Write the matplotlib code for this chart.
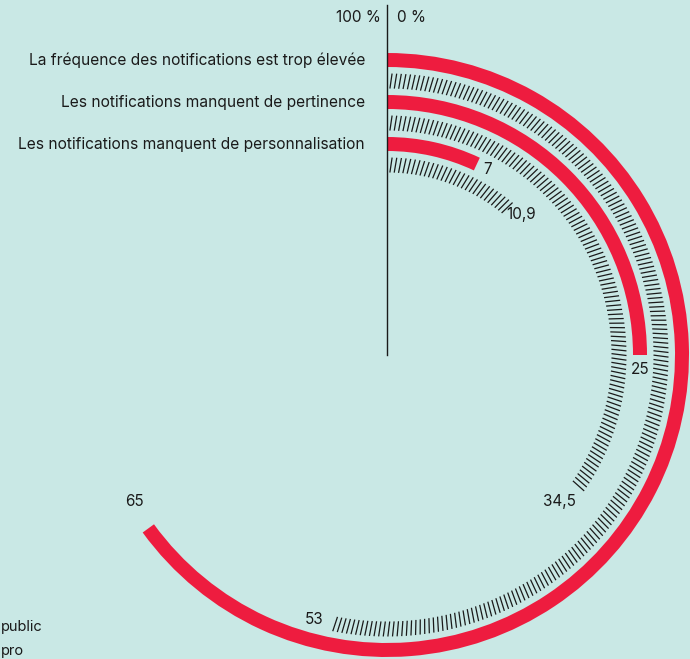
import matplotlib.pyplot as plt
import numpy as np

# DATA
categories = [
    'La fréquence des notifications est trop élevée',
    'Les notifications manquent de pertinence',
    'Les notifications manquent de personnalisation',
]
public = [65, 25, 7]
pro = [53, 34.5, 10.9]
legend_labels = ['public', 'pro']

# Colors
bg = '#c9e8e5'
red = '#ee1c3f'
ink = '#1a1a1a'

plt.rcParams['font.family'] = ['Inter', 'DejaVu Sans']

W, H = 690, 659
cx, cy = 387, 355          # centre of the rings, pixels from top-left
R = 310                    # half size of the polar box in pixels

fig = plt.figure(figsize=(W / 100, H / 100), dpi=100, facecolor=bg)
ax = fig.add_axes([(cx - R) / W, (H - cy - R) / H, 2 * R / W, 2 * R / H],
                  projection='polar')
ax.set_theta_zero_location('N')
ax.set_theta_direction(-1)
ax.set_ylim(0, R)
ax.set_axis_off()

red_r = [295, 253, 211]    # ring radii for public
pro_r = [274, 232, 190]    # ring radii for pro
thick = 14

def to_theta(v):
    return v / 100 * 2 * np.pi

# public: solid red arcs
for v, r in zip(public, red_r):
    ax.barh(r, to_theta(v), left=0, height=thick, color=red, linewidth=0)

# pro: hatched arcs made of short slanted ticks
step = 4.5
for v, r in zip(pro, pro_r):
    r0, r1 = r - 7.5, r + 7.5
    arc = to_theta(v) * r
    n = int((arc - 3) / step) + 1
    th = (3 + np.arange(n) * step) / r
    ts, rs = [], []
    for t in th:
        ts += [t, t + 2.0 / r1, np.nan]
        rs += [r0, r1, np.nan]
    ax.plot(ts, rs, color=ink, lw=0.9, solid_capstyle='butt')

# value labels
fs = 11
gaps = [(30, -3), (15, 0.5), (12.5, 0)]
for v, r, (g, dr) in zip(public, red_r, gaps):
    rr = r + dr
    ax.text(to_theta(v) + g / rr, rr, f'{v:g}'.replace('.', ','),
            ha='center', va='center', fontsize=fs, color=ink)
gaps = [(22.5, 0), (24.7, -6), (15, 4.5)]
for v, r, (g, dr) in zip(pro, pro_r, gaps):
    rr = r + dr
    ax.text(to_theta(v) + g / rr, rr, f'{v:g}'.replace('.', ','),
            ha='center', va='center', fontsize=fs, color=ink)

# category labels, left of the zero line
for lab, r in zip(categories, red_r):
    fig.text(365 / W, 1 - (cy - r) / H, lab, ha='right', va='center',
             fontsize=11.2, color=ink)

# zero line and its labels
fig.add_artist(plt.Line2D([cx / W, cx / W], [1 - 5 / H, 1 - cy / H],
                          color=ink, lw=1))
fig.text(381 / W, 1 - 17 / H, '100 %', ha='right', va='center',
         fontsize=fs, color=ink)
fig.text(397 / W, 1 - 17 / H, '0 %', ha='left', va='center',
         fontsize=fs, color=ink)

# legend
for i, lab in enumerate(legend_labels):
    fig.text(1 / W, 1 - (627 + 24 * i) / H, lab, ha='left', va='center',
             fontsize=10.5, color=ink)

plt.savefig('out.png', dpi=100, facecolor=bg)
